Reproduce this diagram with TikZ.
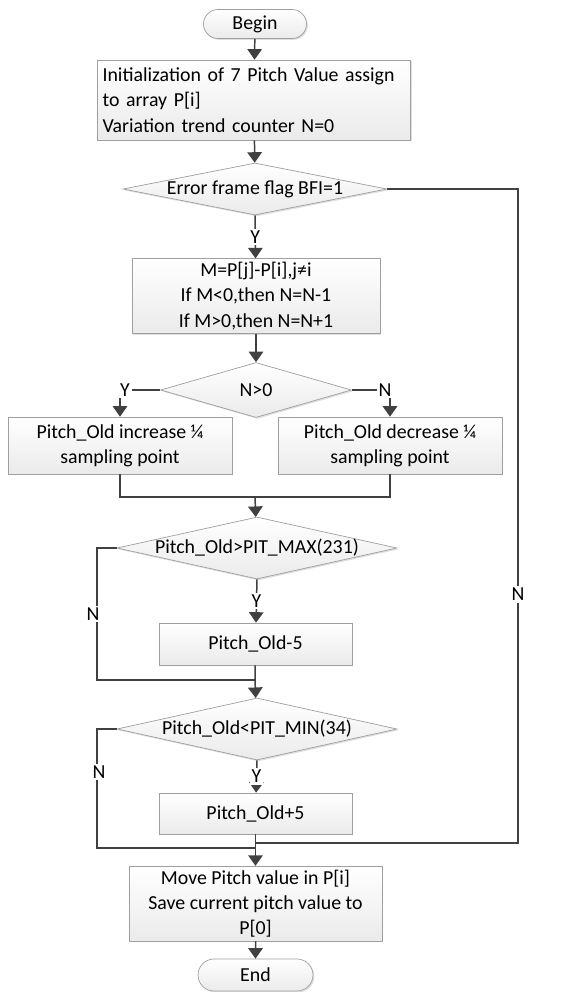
\documentclass[tikz,border=0pt]{standalone}
\usepackage{fontspec}
\setmainfont{Carlito}
\usetikzlibrary{shapes.geometric,shapes.misc,arrows.meta,shadows}
\newcommand{\dtext}[1]{\makebox[0pt]{#1}}

\begin{document}
\begin{tikzpicture}[
    x=0.02cm, y=-0.02cm,
    every node/.style={font=\fontsize{11.3}{14.4}\selectfont},
    shadebox/.style={draw=gray!75, top color=white, bottom color=gray!16,
        drop shadow={shadow xshift=0.8pt, shadow yshift=-0.8pt, opacity=0.25}},
    proc/.style={shadebox, rectangle, align=center, inner sep=2pt},
    term/.style={shadebox, rounded rectangle, inner sep=0pt},
    decision/.style={shadebox, diamond, inner sep=0pt},
    flow/.style={draw=black!75, line width=0.85pt},
    arr/.style={flow, -{Triangle[length=0.21cm, width=0.29cm]}},
    yn/.style={fill=white, inner sep=1pt},
]
\useasboundingbox (0,0) rectangle (568,992);

\node[term, minimum width=2.06cm, minimum height=0.58cm] (begin) at (255,24) {Begin};
\node[proc, align=left, text width=6.06cm, inner xsep=0.1cm, minimum height=1.6cm] (init) at (254,100)
    {Initialization of 7 Pitch Value assign\\to array P[i]\\Variation trend counter N=0};
\node[decision, minimum width=5.28cm, minimum height=1.04cm] (bfi) at (255,189) {\dtext{Error frame flag BFI=1}};
\node[proc, minimum width=4.96cm, minimum height=1.36cm] (calc) at (256,296)
    {M=P[j]-P[i],j≠i\\If M<0,then N=N-1\\If M>0,then N=N+1};
\node[decision, minimum width=3.82cm, minimum height=1.1cm] (npos) at (256,390) {\dtext{N>0}};
\node[proc, minimum width=4.48cm, minimum height=1.14cm] (inc) at (120,445.5) {Pitch\_Old increase ¼\\sampling point};
\node[proc, minimum width=4.48cm, minimum height=1.14cm] (dec) at (390,445.5) {Pitch\_Old decrease ¼\\sampling point};
\node[decision, minimum width=5.6cm, minimum height=1.24cm] (pmax) at (257,548) {\dtext{Pitch\_Old>PIT\_MAX(231)}};
\node[proc, minimum width=3.86cm, minimum height=0.84cm] (sub) at (255.5,644) {Pitch\_Old-5};
\node[decision, minimum width=5.6cm, minimum height=1.24cm] (pmin) at (257,729) {\dtext{Pitch\_Old<PIT\_MIN(34)}};
\node[proc, minimum width=3.86cm, minimum height=0.82cm] (add) at (255.5,813.5) {Pitch\_Old+5};
\node[proc, minimum width=5.06cm, minimum height=1.46cm] (move) at (255.5,903.5)
    {Move Pitch value in P[i]\\Save current pitch value to\\P[0]};
\node[term, minimum width=2.3cm, minimum height=0.64cm] (end) at (255.5,975) {End};

\coordinate (j1) at (255,497);
\coordinate (j2) at (255,680);
\coordinate (j3) at (255,848);
\coordinate (j4) at (255,843);

\draw[arr] (begin) -- (init);
\draw[arr] (init) -- (bfi);
\draw[arr] (bfi.south) -- node[yn]{Y} (calc);
\draw[flow] (bfi.east) -| node[yn, pos=0.81]{N} (j4 -| 518,0) -- (j4);
\draw[arr] (calc) -- (npos);

\draw[arr] (npos.west) -| node[yn, pos=0.5, xshift=0.1cm]{Y} (inc.north);
\draw[arr] (npos.east) -| node[yn, pos=0.5, xshift=-0.1cm]{N} (dec.north);
\draw[flow] (inc.south) |- (j1);
\draw[flow] (dec.south) |- (j1);
\draw[arr] (j1) -- (pmax);

\draw[arr] (pmax.south) -- node[yn]{Y} (sub);
\draw[flow] (pmax.west) -| node[yn, pos=0.75, xshift=-0.08cm]{N} (j2 -| 97,0) -- (j2);
\draw[flow] (sub) -- (j2);
\draw[arr] (j2) -- (pmin);

\draw[arr] (pmin.south) -- node[yn]{Y} (add);
\draw[flow] (pmin.west) -| node[yn, pos=0.68, xshift=0.04cm]{N} (j3 -| 97,0) -- (j3);
\draw[arr] (add) -- (move);
\draw[arr] (move) -- (end);
\end{tikzpicture}
\end{document}
